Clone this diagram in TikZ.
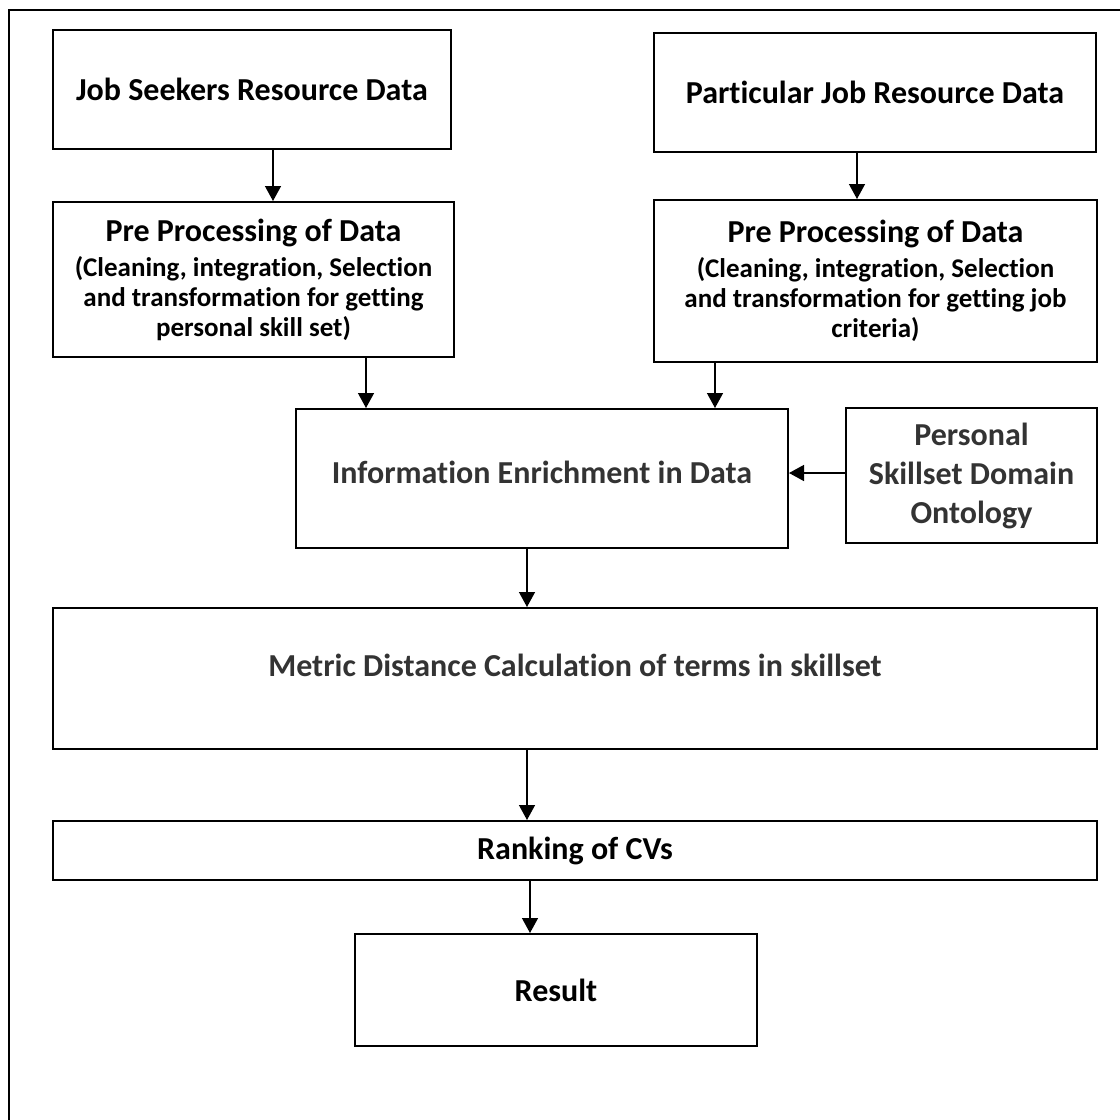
\documentclass[tikz,border=0pt]{standalone}
\usepackage{fontspec}
\setmainfont{Carlito}[Ligatures=NoCommon]
\usepackage{tikz}
\usetikzlibrary{positioning,arrows.meta}
\usepackage{xcolor}
\definecolor{inkgray}{HTML}{333333}
\newcommand{\headline}[1]{{\fontsize{16}{19}\selectfont #1}}

\begin{document}
\begin{tikzpicture}[x=0.5pt,y=-0.5pt,>={Triangle[length=7.5pt,width=8pt]},
  box/.style={draw,line width=1pt,inner sep=0pt,align=center,font=\fontsize{16}{19.5}\selectfont\bfseries},
  prepbox/.style={box,font=\fontsize{13.5}{15}\selectfont\bfseries},
  flow/.style={->,line width=0.7pt}]
\useasboundingbox (0,0) rectangle (1120,1120);
\draw[line width=1.3pt] (9,1120) -- (9,10) -- (1120,10);
\node[box,minimum width=199pt,minimum height=59.5pt] (seeker) at (252,89.5) {Job Seekers Resource Data};
\node[box,minimum width=221pt,minimum height=59.5pt] (jobdata) at (875,92.5) {Particular Job Resource Data};
\node[prepbox,minimum width=200.5pt,minimum height=77.5pt] (prepseeker) at (253.5,279.5)
  {\headline{Pre Processing of Data}\\[2.5pt](Cleaning, integration, Selection\\and transformation for getting\\personal skill set)};
\node[prepbox,minimum width=221.5pt,minimum height=81pt] (prepjob) at (875.5,281)
  {\headline{Pre Processing of Data}\\[2.5pt](Cleaning, integration, Selection\\and transformation for getting job\\criteria)};
\node[box,text=inkgray,text height=8pt,text depth=2.7pt,minimum width=246pt,minimum height=69.5pt] (enrich) at (542,478.5) {Information Enrichment in Data};
\node[box,text=inkgray,minimum width=125.5pt,minimum height=67.5pt] (onto) at (971.5,475.5) {Personal\\Skillset Domain\\Ontology};
\node[box,text=inkgray,text height=5pt,text depth=6.7pt,minimum width=522pt,minimum height=70.5pt] (metric) at (575,678.5) {Metric Distance Calculation of terms in skillset};
\node[box,minimum width=522pt,minimum height=29.5pt] (rank) at (575,850.5) {Ranking of CVs};
\node[box,minimum width=201pt,minimum height=56pt] (result) at (556,990) {Result};
\coordinate (c1) at (273,0);
\coordinate (c2) at (857,0);
\coordinate (c3) at (366,0);
\coordinate (c4) at (715,0);
\coordinate (c5) at (527,0);
\coordinate (c6) at (530,0);
\coordinate (r1) at (0,473);
\draw[flow] (seeker.south -| c1) -- (prepseeker.north -| c1);
\draw[flow] (jobdata.south -| c2) -- (prepjob.north -| c2);
\draw[flow] (prepseeker.south -| c3) -- (enrich.north -| c3);
\draw[flow] (prepjob.south -| c4) -- (enrich.north -| c4);
\draw[flow] (onto.west |- r1) -- (enrich.east |- r1);
\draw[flow] (enrich.south -| c5) -- (metric.north -| c5);
\draw[flow] (metric.south -| c5) -- (rank.north -| c5);
\draw[flow] (rank.south -| c6) -- (result.north -| c6);
\end{tikzpicture}
\end{document}
